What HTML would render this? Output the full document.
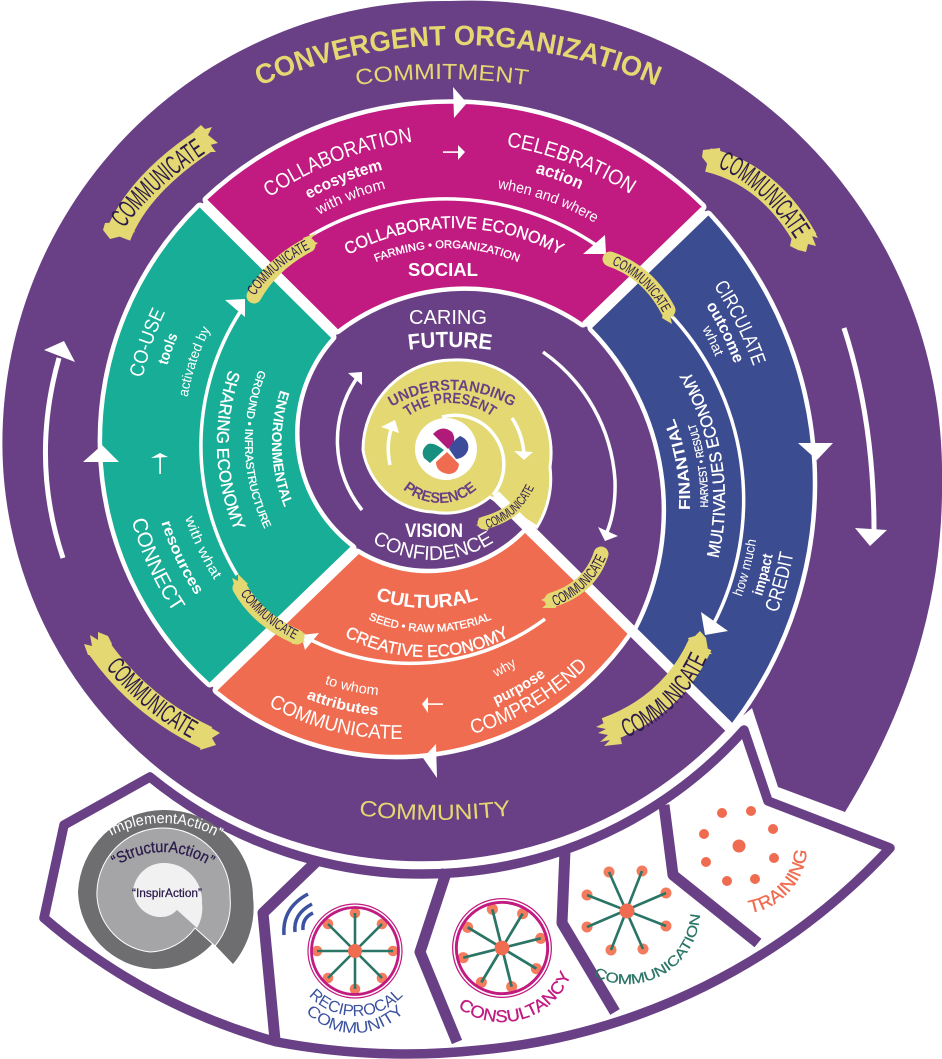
<!DOCTYPE html>
<html><head><meta charset="utf-8"><title>Convergent Organization</title>
<style>
html,body{margin:0;padding:0;background:#fff}
svg{display:block}
text{font-family:"Liberation Sans",sans-serif;text-anchor:middle;fill:#fff}
.b{font-weight:bold}
.m{stroke:#fff;stroke-width:.35}
.y{fill:#E3D871}
.p{fill:#694085;font-weight:bold}
.s{font-family:"Liberation Sans Narrow","Liberation Sans",sans-serif;fill:#2b1a4a;font-weight:normal}
.st{fill:none;stroke:#E3D871}
.ar{fill:none;stroke:#fff;stroke-linecap:butt}
</style></head><body>
<svg xmlns="http://www.w3.org/2000/svg" width="942" height="1059" viewBox="0 0 942 1059">
<defs>
<path id="a500" d="M0,500A500 500 0 1 1 0,-500A500 500 0 1 1 0,500"/>
<path id="a600" d="M0,600A600 600 0 1 1 0,-600A600 600 0 1 1 0,600"/>
<path id="a323" d="M0,323A323 323 0 1 1 0,-323A323 323 0 1 1 0,323"/>
<path id="a301" d="M0,301A301 301 0 1 1 0,-301A301 301 0 1 1 0,301"/>
<path id="a282" d="M0,282A282 282 0 1 1 0,-282A282 282 0 1 1 0,282"/>
<path id="a320" d="M0,320A320 320 0 1 1 0,-320A320 320 0 1 1 0,320"/>
<path id="a300" d="M0,300A300 300 0 1 1 0,-300A300 300 0 1 1 0,300"/>
<path id="a277" d="M0,277A277 277 0 1 1 0,-277A277 277 0 1 1 0,277"/>
<path id="a221" d="M0,221A221 221 0 1 1 0,-221A221 221 0 1 1 0,221"/>
<path id="a187" d="M0,187A187 187 0 1 1 0,-187A187 187 0 1 1 0,187"/>
<path id="a116" d="M0,116A116 116 0 1 1 0,-116A116 116 0 1 1 0,116"/>
<path id="a72" d="M0,72A72 72 0 1 1 0,-72A72 72 0 1 1 0,72"/>
<path id="a357" d="M0,357A357 357 0 1 1 0,-357A357 357 0 1 1 0,357"/>
<path id="a340" d="M0,340A340 340 0 1 1 0,-340A340 340 0 1 1 0,340"/>
<path id="a325" d="M0,325A325 325 0 1 1 0,-325A325 325 0 1 1 0,325"/>
<path id="a294" d="M0,294A294 294 0 1 1 0,-294A294 294 0 1 1 0,294"/>
<path id="a273" d="M0,273A273 273 0 1 1 0,-273A273 273 0 1 1 0,273"/>
<path id="a246" d="M0,246A246 246 0 1 1 0,-246A246 246 0 1 1 0,246"/>
<path id="a111" d="M0,111A111 111 0 1 1 0,-111A111 111 0 1 1 0,111"/>
<path id="a84" d="M0,84A84 84 0 1 1 0,-84A84 84 0 1 1 0,84"/>
<path id="b600" d="M0,-600A600 600 0 1 0 0,600A600 600 0 1 0 0,-600"/>
<path id="b112" d="M0,-112A112 112 0 1 0 0,112A112 112 0 1 0 0,-112"/>
<path id="b56" d="M0,-56A56 56 0 1 0 0,56A56 56 0 1 0 0,-56"/>
<path id="b384" d="M0,-384A384 384 0 1 0 0,384A384 384 0 1 0 0,-384"/>
<path id="b364" d="M0,-364A364 364 0 1 0 0,364A364 364 0 1 0 0,-364"/>
<path id="b345" d="M0,-345A345 345 0 1 0 0,345A345 345 0 1 0 0,-345"/>
<path id="b253" d="M0,-253A253 253 0 1 0 0,253A253 253 0 1 0 0,-253"/>
<path id="b236" d="M0,-236A236 236 0 1 0 0,236A236 236 0 1 0 0,-236"/>
<path id="b218" d="M0,-218A218 218 0 1 0 0,218A218 218 0 1 0 0,-218"/>
<path id="b309" d="M0,-309A309 309 0 1 0 0,309A309 309 0 1 0 0,-309"/>
<path id="b281" d="M0,-281A281 281 0 1 0 0,281A281 281 0 1 0 0,-281"/>
<path id="b257" d="M0,-257A257 257 0 1 0 0,257A257 257 0 1 0 0,-257"/>
<path id="b226" d="M0,-226A226 226 0 1 0 0,226A226 226 0 1 0 0,-226"/>
<path id="b198" d="M0,-198A198 198 0 1 0 0,198A198 198 0 1 0 0,-198"/>
<path id="b171" d="M0,-171A171 171 0 1 0 0,171A171 171 0 1 0 0,-171"/>
<path id="b265" d="M0,-265A265 265 0 1 0 0,265A265 265 0 1 0 0,-265"/>
<path id="b242" d="M0,-242A242 242 0 1 0 0,242A242 242 0 1 0 0,-242"/>
<path id="b222" d="M0,-222A222 222 0 1 0 0,222A222 222 0 1 0 0,-222"/>
<path id="b271" d="M0,-271A271 271 0 1 0 0,271A271 271 0 1 0 0,-271"/>
<path id="b251" d="M0,-251A251 251 0 1 0 0,251A251 251 0 1 0 0,-251"/>
<path id="b160" d="M0,-160A160 160 0 1 0 0,160A160 160 0 1 0 0,-160"/>
<path id="b155" d="M0,-155A155 155 0 1 0 0,155A155 155 0 1 0 0,-155"/>
<path id="b174" d="M0,-174A174 174 0 1 0 0,174A174 174 0 1 0 0,-174"/>
<path id="b65" d="M0,-65A65 65 0 1 0 0,65A65 65 0 1 0 0,-65"/>
<path id="b68" d="M0,-68A68 68 0 1 0 0,68A68 68 0 1 0 0,-68"/>
<path id="b74" d="M0,-74A74 74 0 1 0 0,74A74 74 0 1 0 0,-74"/>
<path id="b73" d="M0,-73A73 73 0 1 0 0,73A73 73 0 1 0 0,-73"/>
<path id="sA" d="M118,237Q152,186 215,147"/>
<path id="sB" d="M706,163Q762,181 802,250"/>
<path id="sC" d="M612,743Q685,720 713,644"/>
<path id="sD" d="M98,657Q140,714 202,744"/>
<path id="sE" d="M250,303Q272,266 318,245"/>
<path id="sF" d="M602,261Q645,274 668,322"/>
<path id="sG" d="M545,610Q594,594 610,548"/>
<path id="sH" d="M235,585Q256,622 304,644"/>
<path id="sI" d="M480,531Q524,518 537,480"/>
<g id="wheel">
<g fill="#F47C5E">
<circle cx="38" cy="0" r="5.3"/><circle cx="-38" cy="0" r="5.3"/><circle cx="0" cy="38" r="5.3"/><circle cx="0" cy="-38" r="5.3"/><circle cx="27" cy="27" r="5.3"/><circle cx="-27" cy="27" r="5.3"/><circle cx="27" cy="-27" r="5.3"/><circle cx="-27" cy="-27" r="5.3"/>
</g>
<g stroke="#2A7566" stroke-width="2.6">
<line x1="-38" y1="0" x2="38" y2="0"/><line x1="0" y1="-38" x2="0" y2="38"/><line x1="-27" y1="-27" x2="27" y2="27"/><line x1="-27" y1="27" x2="27" y2="-27"/>
</g>
<circle r="7" fill="#F06C50"/>
<circle r="47" fill="none" stroke="#C11A80" stroke-width="1.2"/>
<circle r="43.5" fill="none" stroke="#C11A80" stroke-width="2.8"/>
</g>
</defs>

<!-- outer purple spiral -->
<path fill="#694085" d="M725,731A419 419 0 0 1 3,466A442 442 0 0 1 450,1A473 473 0 0 1 942,480Q944,650 845,812L778,787L752,708Z"/>

<!-- sectors -->
<g stroke="#fff" stroke-width="9" stroke-linejoin="round" paint-order="stroke">
<path fill="#C11A80" d="M207,200A357 357 0 0 1 702,207L583,323A209 209 0 0 0 337,330Z"/>
<path fill="#3C4C90" d="M708,215A396 396 0 0 1 732,723L637,630A261 261 0 0 0 592,328Z"/>
<path fill="#17AD96" d="M200,207A327 327 0 0 0 210,683L352,548A144 144 0 0 1 332,337Z"/>
<path fill="#F06C50" d="M217,690A281 281 0 0 0 628,633L525,533A136 136 0 0 1 357,553Z"/>
</g>
<g stroke="#fff" stroke-width="11">
<line x1="203" y1="203" x2="336" y2="335"/>
<line x1="705" y1="211" x2="586" y2="326"/>
<line x1="213" y1="687" x2="355" y2="550"/>
</g>

<!-- yellow spiral -->
<path fill="#E3D871" stroke="#fff" stroke-width="3" d="M537,527A92 92 0 0 0 550,467A93 93 0 0 0 453,360A90 90 0 0 0 363,450A74 74 0 0 0 433,512A70 70 0 0 0 490,497Z"/>
<line x1="495" y1="495" x2="737" y2="735" stroke="#fff" stroke-width="10.5"/>
<circle cx="446" cy="449" r="31" fill="#fff"/>
<path fill="none" stroke="#fff" stroke-width="3.5" d="M442,417A49 49 0 0 1 493,495"/>
<path fill="#B01A78" d="M448,449L433,434Q442,424 452,432Q458,442 448,449Z"/>
<path fill="#3C4C9A" d="M449,449Q452,441 460,436Q470,440 468,450Q465,458 456,459Z"/>
<path fill="#F06C50" d="M447,452L459,464Q458,474 448,474Q436,472 436,462Z"/>
<path fill="#17907F" d="M444,450Q434,442 428,444Q420,450 424,458L430,463Z"/>

<!-- white arrows -->
<g class="ar" stroke-width="3.5">
<path d="M512,418Q522,433 524,453"/>
<path d="M390,465Q386,445 391,430"/>
<path d="M543,352A170 170 0 0 1 615,480Q616,510 607,532"/>
<path d="M362,510A110 110 0 0 1 357,378"/>
<path d="M310,236A267 267 0 0 1 596,245"/>
<path d="M668,312A271 271 0 0 1 713,625"/>
<path d="M545,619A225 225 0 0 1 311,640"/>
<path d="M237,575A249 249 0 0 1 240,312"/>
</g>
<g class="ar" stroke-width="5">
<path d="M844,328Q874,420 874,530"/>
<path d="M63,558Q30,460 59,358"/>
</g>
<g fill="#fff">
<path d="M514,451L533,452L524,460Z"/>
<path d="M381,427L395,420L399,433Z"/>
<path d="M598,527L618,536L605,541Z"/>
<path d="M348,373L362,372L362,385Z"/>
<path d="M605,235L583,254L606,254Z"/>
<path d="M701,612L728,631L705,635Z"/>
<path d="M319,633L301,635L305,650Z"/>
<path d="M225,300L245,299L245,317Z"/>
<path d="M453,87L467,103L454,118Z"/>
<path d="M798,443L833,443L817,460Z"/>
<path d="M436,744L423,758L437,778Z"/>
<path d="M102,445L83,462L119,462Z"/>
<path d="M855,528L887,530L870,546Z"/>
<path d="M44,350L64,341L75,362Z"/>
<path d="M458,145L465,152L458,160Z"/><rect x="443" y="151.3" width="18" height="1.6"/>
<path d="M428,697L422,704L428,713Z"/><rect x="426" y="703.3" width="17" height="1.6"/>
<path d="M151,458L160,453L168,457Z"/><rect x="159.3" y="456" width="1.6" height="18"/>
</g>

<!-- outer labels -->
<g transform="translate(458 545)"><text class="y b" font-size="28"><textPath href="#a500" startOffset="50%" textLength="408" lengthAdjust="spacingAndGlyphs">CONVERGENT ORGANIZATION</textPath></text></g>
<g transform="translate(442 679)"><text class="y" font-size="22"><textPath href="#a600" startOffset="50%" textLength="172" lengthAdjust="spacingAndGlyphs">COMMITMENT</textPath></text></g>
<g transform="translate(435 220)"><text class="y" font-size="22"><textPath href="#b600" startOffset="50%" textLength="153" lengthAdjust="spacingAndGlyphs">COMMUNITY</textPath></text></g>

<!-- magenta -->
<g transform="translate(455 462)">
<text font-size="21"><textPath href="#a323" startOffset="44.08%" textLength="155" lengthAdjust="spacingAndGlyphs">COLLABORATION</textPath></text>
<text font-size="16" class="b"><textPath href="#a301" startOffset="44.03%" textLength="80" lengthAdjust="spacingAndGlyphs">ecosystem</textPath></text>
<text font-size="15"><textPath href="#a282" startOffset="44.03%" textLength="72" lengthAdjust="spacingAndGlyphs">with whom</textPath></text>
<text font-size="21"><textPath href="#a320" startOffset="55.9%" textLength="134" lengthAdjust="spacingAndGlyphs">CELEBRATION</textPath></text>
<text font-size="17" class="b"><textPath href="#a300" startOffset="55.58%" textLength="48" lengthAdjust="spacingAndGlyphs">action</textPath></text>
<text font-size="15"><textPath href="#a277" startOffset="55.44%" textLength="104" lengthAdjust="spacingAndGlyphs">when and where</textPath></text>
</g>
<g transform="translate(454 449)"><text font-size="17" class="m"><textPath href="#a221" startOffset="50%" textLength="221" lengthAdjust="spacingAndGlyphs">COLLABORATIVE ECONOMY</textPath></text></g>
<g transform="translate(447 435)"><text font-size="11" class="m"><textPath href="#a187" startOffset="50%" textLength="146" lengthAdjust="spacingAndGlyphs">FARMING • ORGANIZATION</textPath></text></g>
<text x="443" y="276" font-size="18" class="b" textLength="70" lengthAdjust="spacingAndGlyphs">SOCIAL</text>

<!-- centre -->
<text x="448" y="324" font-size="20" textLength="78" lengthAdjust="spacingAndGlyphs">CARING</text>
<g transform="translate(450 647)"><text font-size="22" class="b"><textPath href="#a300" startOffset="50%" textLength="83" lengthAdjust="spacingAndGlyphs">FUTURE</textPath></text></g>
<text x="434" y="537" font-size="19" class="b" textLength="58" lengthAdjust="spacingAndGlyphs">VISION</text>
<g transform="translate(433 448)"><text font-size="20"><textPath href="#b112" startOffset="50%" textLength="129" lengthAdjust="spacingAndGlyphs">CONFIDENCE</textPath></text></g>
<g transform="translate(452 506)"><text font-size="15" class="p"><textPath href="#a116" startOffset="50%" textLength="127" lengthAdjust="spacingAndGlyphs">UNDERSTANDING</textPath></text></g>
<g transform="translate(450 475)"><text font-size="15" class="p"><textPath href="#a72" startOffset="50%" textLength="90" lengthAdjust="spacingAndGlyphs">THE PRESENT</textPath></text></g>
<g transform="translate(440 447)"><text font-size="15" class="p"><textPath href="#b56" startOffset="50%" textLength="81" lengthAdjust="spacingAndGlyphs">PRESENCE</textPath></text></g>

<!-- blue -->
<g transform="translate(416 483)">
<text font-size="20"><textPath href="#a357" startOffset="67.69%" textLength="90" lengthAdjust="spacingAndGlyphs">CIRCULATE</textPath></text>
<text font-size="16" class="b"><textPath href="#a340" startOffset="67.78%" textLength="65" lengthAdjust="spacingAndGlyphs">outcome</textPath></text>
<text font-size="14"><textPath href="#a325" startOffset="67.89%" textLength="31" lengthAdjust="spacingAndGlyphs">what</textPath></text>
<text font-size="20"><textPath href="#b384" startOffset="70.78%" textLength="62" lengthAdjust="spacingAndGlyphs">CREDIT</textPath></text>
<text font-size="15" class="b"><textPath href="#b364" startOffset="70.89%" textLength="43" lengthAdjust="spacingAndGlyphs">impact</textPath></text>
<text font-size="14"><textPath href="#b345" startOffset="71%" textLength="59" lengthAdjust="spacingAndGlyphs">how much</textPath></text>
</g>
<g transform="translate(472 500)">
<text font-size="17" class="m"><textPath href="#b253" startOffset="77.42%" textLength="195" lengthAdjust="spacingAndGlyphs">MULTIVALUES ECONOMY</textPath></text>
<text font-size="11" class="m"><textPath href="#b236" startOffset="77.39%" textLength="86" lengthAdjust="spacingAndGlyphs">HARVEST • RESULT</textPath></text>
<text font-size="16" class="b"><textPath href="#b218" startOffset="77.69%" textLength="94" lengthAdjust="spacingAndGlyphs">FINANTIAL</textPath></text>
</g>

<!-- teal -->
<g transform="translate(430 440)">
<text font-size="20"><textPath href="#a294" startOffset="30.28%" textLength="70" lengthAdjust="spacingAndGlyphs">CO-USE</textPath></text>
<text font-size="15" class="b"><textPath href="#a273" startOffset="30.33%" textLength="32" lengthAdjust="spacingAndGlyphs">tools</textPath></text>
<text font-size="14"><textPath href="#a246" startOffset="30.11%" textLength="72" lengthAdjust="spacingAndGlyphs">activated by</textPath></text>
<text font-size="21"><textPath href="#b309" startOffset="31.81%" textLength="102" lengthAdjust="spacingAndGlyphs">CONNECT</textPath></text>
<text font-size="15" class="b"><textPath href="#b281" startOffset="32.03%" textLength="81" lengthAdjust="spacingAndGlyphs">resources</textPath></text>
<text font-size="14"><textPath href="#b257" startOffset="32.03%" textLength="69" lengthAdjust="spacingAndGlyphs">with what</textPath></text>
</g>
<g transform="translate(443 443)">
<text font-size="17" class="m"><textPath href="#b226" startOffset="25.56%" textLength="165" lengthAdjust="spacingAndGlyphs">SHARING ECONOMY</textPath></text>
<text font-size="11" class="m"><textPath href="#b198" startOffset="25.56%" textLength="164" lengthAdjust="spacingAndGlyphs">GROUND • INFRASTRUCTURE</textPath></text>
<text font-size="14" class="b"><textPath href="#b171" startOffset="25.56%" textLength="120" lengthAdjust="spacingAndGlyphs">ENVIRONMENTAL</textPath></text>
</g>

<!-- orange -->
<g transform="translate(397 474)">
<text font-size="20"><textPath href="#b265" startOffset="46.14%" textLength="140" lengthAdjust="spacingAndGlyphs">COMMUNICATE</textPath></text>
<text font-size="15" class="b"><textPath href="#b242" startOffset="46.31%" textLength="74" lengthAdjust="spacingAndGlyphs">attributes</textPath></text>
<text font-size="14"><textPath href="#b222" startOffset="46.67%" textLength="55" lengthAdjust="spacingAndGlyphs">to whom</textPath></text>
<text font-size="20"><textPath href="#b271" startOffset="58.47%" textLength="135" lengthAdjust="spacingAndGlyphs">COMPREHEND</textPath></text>
<text font-size="15" class="b"><textPath href="#b251" startOffset="58.28%" textLength="58" lengthAdjust="spacingAndGlyphs">purpose</textPath></text>
<text font-size="14"><textPath href="#b226" startOffset="58.06%" textLength="24" lengthAdjust="spacingAndGlyphs">why</textPath></text>
</g>
<g transform="translate(427 448)"><text font-size="19" class="b"><textPath href="#b160" startOffset="50%" textLength="105" lengthAdjust="spacingAndGlyphs">CULTURAL</textPath></text></g>
<g transform="translate(430 477)"><text font-size="11" class="m"><textPath href="#b155" startOffset="50%" textLength="127" lengthAdjust="spacingAndGlyphs">SEED • RAW MATERIAL</textPath></text></g>
<g transform="translate(427 483)"><text font-size="17" class="m"><textPath href="#b174" startOffset="50%" textLength="172" lengthAdjust="spacingAndGlyphs">CREATIVE ECONOMY</textPath></text></g>

<!-- communicate brushes -->
<g fill="none" stroke="#E3D871">
<path stroke-width="26" d="M118,236Q138,184 207,139"/>
<path stroke-width="24" d="M708,160Q770,175 806,240"/>
<path stroke-width="25" d="M606,730Q672,706 700,645"/>
<path stroke-width="24" d="M99,648Q140,706 207,738"/>
<g stroke-linecap="round" stroke-width="15">
<path d="M254,296Q272,264 308,245"/>
<path d="M610,259Q648,272 668,310"/>
<path d="M552,600Q590,588 601,554"/>
<path d="M240,588Q258,620 297,637"/>
</g>
<path stroke-linecap="round" stroke-width="13" d="M484,523Q520,513 528,488"/>
</g>
<g fill="#E3D871">
<path d="M194,131L201,125L205,129L212,127L208,135L218,143L210,145L216,152L206,152Z"/>
<path d="M105,223L103,230L110,239L122,236L135,232L125,222Z"/>
<path d="M720,148L703,150L702,157L712,170L722,168Z"/>
<path d="M796,218L812,228L818,238L812,236L816,246L808,244L806,252L798,250L790,246Z"/>
<path d="M615,715L605,718L608,721L596,727L606,729L598,733L608,735L600,742L610,740L604,746L622,744Z"/>
<path d="M688,638L695,636L700,631L706,638L708,650L712,654L695,655Z"/>
<path d="M104,655L88,655L84,644L92,646L90,635L98,640L98,632L108,636L112,644Z"/>
<path d="M206,725L220,733L212,738L216,745L200,750Z"/>
<path d="M303,238L316,233L310,240L318,243L306,252Z"/>
<path d="M664,306L676,318L670,316L672,324L662,318Z"/>
<path d="M556,608L542,608L548,603L541,600L552,594Z"/>
<path d="M236,590L232,578L238,581L238,574L248,584Z"/>
<path d="M292,630L306,634L300,637L305,642L292,644Z"/>
<path d="M488,531L476,525L484,522L478,518L490,516Z"/>
</g>
<g>
<text class="s" font-size="27"><textPath href="#sA" startOffset="50%" textLength="112" lengthAdjust="spacingAndGlyphs">COMMUNICATE</textPath></text>
<text class="s" font-size="27"><textPath href="#sB" startOffset="50%" textLength="108" lengthAdjust="spacingAndGlyphs">COMMUNICATE</textPath></text>
<text class="s" font-size="26"><textPath href="#sC" startOffset="50%" textLength="116" lengthAdjust="spacingAndGlyphs">COMMUNICATE</textPath></text>
<text class="s" font-size="26"><textPath href="#sD" startOffset="50%" textLength="112" lengthAdjust="spacingAndGlyphs">COMMUNICATE</textPath></text>
<text class="s" font-size="15"><textPath href="#sE" startOffset="50%" textLength="74" lengthAdjust="spacingAndGlyphs">COMMUNICATE</textPath></text>
<text class="s" font-size="14"><textPath href="#sF" startOffset="50%" textLength="72" lengthAdjust="spacingAndGlyphs">COMMUNICATE</textPath></text>
<text class="s" font-size="15"><textPath href="#sG" startOffset="50%" textLength="72" lengthAdjust="spacingAndGlyphs">COMMUNICATE</textPath></text>
<text class="s" font-size="14"><textPath href="#sH" startOffset="50%" textLength="72" lengthAdjust="spacingAndGlyphs">COMMUNICATE</textPath></text>
<text class="s" font-size="13"><textPath href="#sI" startOffset="50%" textLength="64" lengthAdjust="spacingAndGlyphs">COMMUNICATE</textPath></text>
</g>

<!-- compartments frame -->
<g fill="none" stroke="#694085" stroke-width="9.5" stroke-linejoin="round">
<path d="M150,777A431 431 0 0 0 744,730L768,801L890,848A640 640 0 0 1 480,1050A700 700 0 0 1 277,1042A600 600 0 0 1 44,918L64,825Z"/>
<path d="M318,860L263,913L275,1040" stroke-width="11"/>
<path d="M447,870L420,952L457,1042" stroke-width="11"/>
<path d="M565,850L562,923L615,1012" stroke-width="11"/>
<path d="M664,805L673,875L758,943" stroke-width="11"/>
</g>

<!-- spiral icon -->
<path fill="#6E6E70" d="M213,943L233,964A88 88 0 0 0 253,897A88 88 0 0 0 163,810A86 86 0 0 0 78,893A80 80 0 0 0 153,969A78 78 0 0 0 213,943Z"/>
<path fill="#A5A5A8" stroke="#fff" stroke-width="1" d="M215,946A66 66 0 0 0 230,897A67 67 0 0 0 163,828A66 66 0 0 0 97,897A60 60 0 0 0 150,952A58 58 0 0 0 195,928Z"/>
<path fill="#F1F1F2" d="M197,928A40 40 0 0 0 202,903A38 38 0 0 0 163,863A31 31 0 0 0 133,890A28 28 0 0 0 160,917A22 22 0 0 0 177,910Z"/>
<g transform="translate(163 934)"><text font-size="15"><textPath href="#a111" startOffset="50%" textLength="118" lengthAdjust="spacingAndGlyphs">“ImplementAction”</textPath></text></g>
<g transform="translate(163 936)"><text font-size="16" style="fill:#2b1a4a;stroke:#2b1a4a;stroke-width:.3"><textPath href="#a84" startOffset="50%" textLength="100" lengthAdjust="spacingAndGlyphs">“StructurAction”</textPath></text></g>
<text x="167" y="897" font-size="12" style="fill:#2b1a4a;stroke:#2b1a4a;stroke-width:.25" textLength="70" lengthAdjust="spacingAndGlyphs">“InspirAction”</text>

<!-- reciprocal -->
<use href="#wheel" transform="translate(355 951)"/>
<g fill="none" stroke="#3C52A0" stroke-width="3.5">
<path d="M308,894Q282,908 284,935"/>
<path d="M312,904Q293,914 295,932"/>
<path d="M313,913Q302,918 303,930"/>
</g>
<g transform="translate(356 951)"><text font-size="16" style="fill:#3C52A0"><textPath href="#b65" startOffset="50%" textLength="106" lengthAdjust="spacingAndGlyphs">RECIPROCAL</textPath></text></g>
<g transform="translate(355 965)"><text font-size="16" style="fill:#3C52A0"><textPath href="#b68" startOffset="50%" textLength="110" lengthAdjust="spacingAndGlyphs">COMMUNITY</textPath></text></g>

<!-- consultancy -->
<use href="#wheel" transform="translate(502 948) rotate(-14) scale(1.05)"/>
<g transform="translate(502 948)"><text font-size="17" style="fill:#C11A80;stroke:#C11A80;stroke-width:.3"><textPath href="#b74" startOffset="54.44%" textLength="136" lengthAdjust="spacingAndGlyphs">CONSULTANCY</textPath></text></g>

<!-- communication -->
<g fill="#F47C5E">
<circle cx="609" cy="872" r="5.5"/><circle cx="642" cy="871" r="5.5"/><circle cx="587" cy="895" r="5.5"/><circle cx="666" cy="893" r="5.5"/><circle cx="587" cy="927" r="5.5"/><circle cx="666" cy="926" r="5.5"/><circle cx="611" cy="950" r="5.5"/><circle cx="643" cy="949" r="5.5"/>
</g>
<g stroke="#2A7566" stroke-width="2.6">
<line x1="609" y1="872" x2="643" y2="949"/><line x1="642" y1="871" x2="611" y2="950"/><line x1="587" y1="895" x2="666" y2="926"/><line x1="666" y1="893" x2="587" y2="927"/>
</g>
<circle cx="627" cy="911" r="7.5" fill="#F06C50"/>
<g transform="translate(627 911)"><text font-size="14" style="fill:#2A7566;stroke:#2A7566;stroke-width:.25"><textPath href="#b73" startOffset="58.33%" textLength="146" lengthAdjust="spacingAndGlyphs">COMMUNICATION</textPath></text></g>

<!-- training -->
<g fill="#F06C50">
<circle cx="739" cy="846" r="6.5"/><circle cx="722" cy="813" r="5"/><circle cx="751" cy="811" r="5"/><circle cx="773" cy="829" r="5"/><circle cx="774" cy="858" r="5"/><circle cx="755" cy="879" r="5"/><circle cx="727" cy="881" r="5"/><circle cx="706" cy="862" r="5"/><circle cx="704" cy="834" r="5"/>
</g>
<g transform="translate(739 846)"><text font-size="18" style="fill:#F06C50;stroke:#F06C50;stroke-width:.3"><textPath href="#b68" startOffset="63.33%" textLength="91" lengthAdjust="spacingAndGlyphs">TRAINING</textPath></text></g>
</svg>
</body></html>
